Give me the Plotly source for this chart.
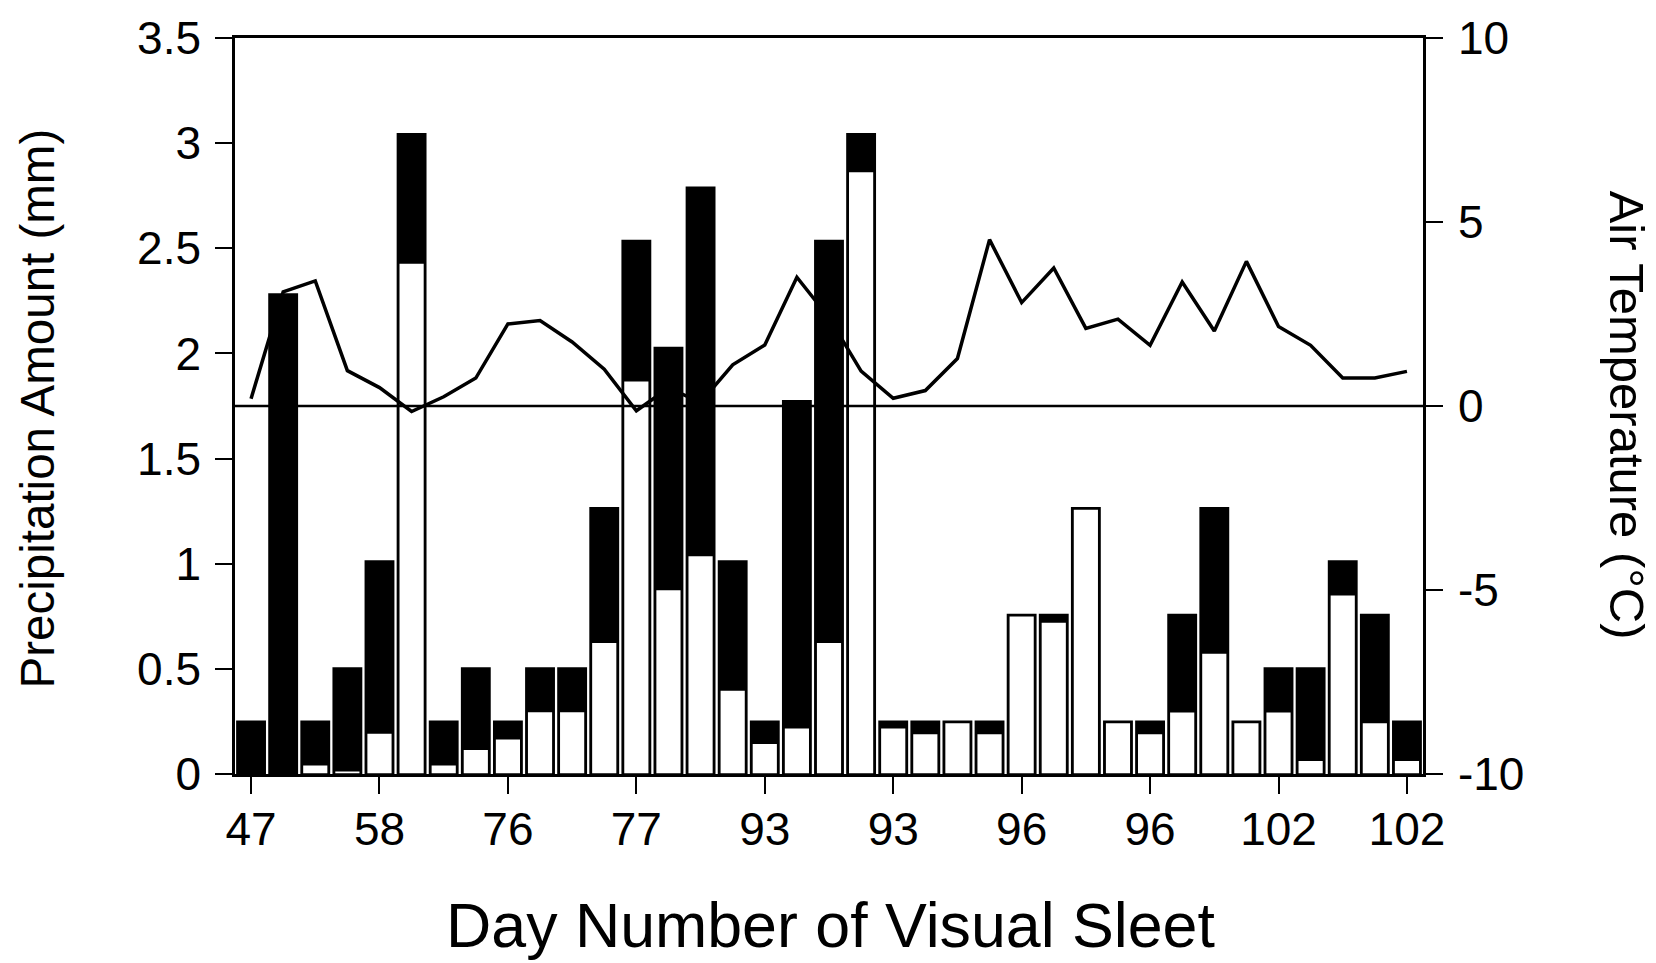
import plotly.graph_objects as go

# ---- data ----
bar_index = list(range(37))

total_precip = [0.254, 2.286, 0.254, 0.508, 1.016, 3.048, 0.254, 0.508, 0.254, 0.508,
                0.508, 1.27, 2.54, 2.032, 2.794, 1.016, 0.254, 1.778, 2.54, 3.048,
                0.254, 0.254, 0.254, 0.254, 0.762, 0.762, 1.27, 0.254, 0.254, 0.762,
                1.27, 0.254, 0.508, 0.508, 1.016, 0.762, 0.254]

sleet_precip = [None, None, 0.044, 0.016, 0.195, 2.43, 0.044, 0.118, 0.168, 0.297,
                0.297, 0.626, 1.87, 0.877, 1.039, 0.40, 0.146, 0.22, 0.626, 2.865,
                0.22, 0.193, 0.245, 0.193, 0.752, 0.723, 1.26, 0.245, 0.193, 0.296,
                0.575, 0.245, 0.296, 0.065, 0.853, 0.245, 0.065]

air_temp = [0.2, 3.1, 3.4, 0.96, 0.5, -0.15, 0.25, 0.76, 2.23, 2.32,
            1.74, 1.0, -0.13, 0.49, 0.1, 1.12, 1.66, 3.5, 2.4, 0.95,
            0.21, 0.42, 1.29, 4.52, 2.81, 3.75, 2.11, 2.36, 1.65, 3.37,
            2.04, 3.93, 2.16, 1.65, 0.76, 0.76, 0.94]

x_tick_pos = [0, 4, 8, 12, 16, 20, 24, 28, 32, 36]
x_tick_text = ["47", "58", "76", "77", "93", "93", "96", "96", "102", "102"]

y_tick_vals = [0, 0.5, 1, 1.5, 2, 2.5, 3, 3.5]
y_tick_text = ["0", "0.5", "1", "1.5", "2", "2.5", "3", "3.5"]

y2_tick_vals = [-10, -5, 0, 5, 10]
y2_tick_text = ["-10", "-5", "0", "5", "10"]

FONT = "Liberation Sans, Arial, Helvetica, sans-serif"

fig = go.Figure()

fig.add_trace(go.Bar(
    x=bar_index, y=total_precip, width=0.93,
    marker=dict(color="black", line=dict(width=0)),
    showlegend=False, yaxis="y", hoverinfo="y"))

fig.add_trace(go.Bar(
    x=bar_index, y=sleet_precip, width=0.80,
    marker=dict(color="white", line=dict(color="black", width=1.5)),
    showlegend=False, yaxis="y", hoverinfo="y"))

fig.add_trace(go.Scatter(
    x=bar_index, y=air_temp, mode="lines",
    line=dict(color="black", width=3.5),
    showlegend=False, yaxis="y2"))

axis_common = dict(
    showgrid=False, zeroline=False, showline=True, linecolor="black",
    linewidth=2.5, ticks="outside", ticklen=17, tickwidth=2, tickcolor="black",
    tickfont=dict(family=FONT, size=46, color="black"))

fig.update_layout(
    width=1656, height=963, autosize=False,
    margin=dict(l=235, r=233, t=29, b=189, pad=0),
    paper_bgcolor="white", plot_bgcolor="white",
    barmode="overlay",
    font=dict(family=FONT, color="black"),
    xaxis=dict(range=[-0.5, 36.5], tickmode="array", tickvals=x_tick_pos,
               ticktext=x_tick_text, mirror=True, ticklabelstandoff=-4,
               **axis_common),
    yaxis=dict(range=[0, 3.5], tickmode="array", tickvals=y_tick_vals,
               ticktext=y_tick_text, ticklabelstandoff=5, **axis_common),
    yaxis2=dict(range=[-10, 10], overlaying="y", side="right", tickmode="array",
                tickvals=y2_tick_vals, ticktext=y2_tick_text,
                ticklabelstandoff=6, **axis_common),
    shapes=[dict(type="line", xref="paper", x0=0, x1=1, yref="y2", y0=0, y1=0,
                 line=dict(color="black", width=2.5), layer="above")],
    annotations=[
        dict(text="Precipitation Amount (mm)", textangle=-90, showarrow=False,
             xref="paper", yref="paper", x=-0.1665, y=0.497,
             xanchor="center", yanchor="middle",
             font=dict(family=FONT, size=47.5, color="black")),
        dict(text="Air Temperature (°C)", textangle=90, showarrow=False,
             xref="paper", yref="paper", x=1.1725, y=0.487,
             xanchor="center", yanchor="middle",
             font=dict(family=FONT, size=49, color="black")),
        dict(text="Day Number of Visual Sleet", showarrow=False,
             xref="paper", yref="paper", x=0.5016, y=-0.2055,
             xanchor="center", yanchor="middle",
             font=dict(family=FONT, size=62.7, color="black")),
    ],
)

fig.write_html("out.html")
